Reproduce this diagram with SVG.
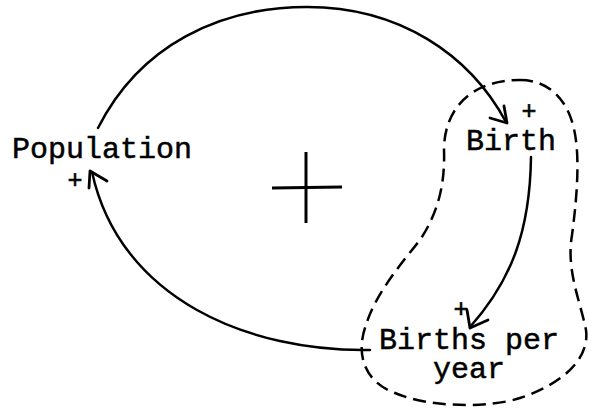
<svg xmlns="http://www.w3.org/2000/svg" width="589" height="413" viewBox="0 0 589 413">
<style>
.lbl{font-family:"Liberation Mono","Courier New",monospace;font-size:30px;fill:#000;stroke:#000;stroke-width:0.5;text-anchor:middle}
.pl{font-family:"Liberation Mono","Courier New",monospace;font-size:25px;fill:#000;stroke:#000;stroke-width:0.6;text-anchor:middle}
.ln{fill:none;stroke:#000;stroke-width:2.5;stroke-linecap:round}
.ah{fill:none;stroke:#000;stroke-width:2.8;stroke-linecap:round;stroke-linejoin:round}
.dash{fill:none;stroke:#000;stroke-width:2.5;stroke-dasharray:13 7}
</style>
<rect width="589" height="413" fill="#fff"/>
<g id="boundary">
<path class="dash" d="M520,80 C545,80 565,95 573,125 C580,150 578,190 572,235 C566,270 580,300 586,330 C590,360 560,385 520,398 C490,408 430,408 395,393 C365,382 355,355 366,325 C375,295 400,265 420,240 C440,210 445,180 444,150 C444,110 470,80 520,80 Z"/>
</g>
<g id="connectors">
<path class="ln" d="M98,128 C140,45 220,7 307,7 C400,7 470,55 506,122"/>
<polyline class="ah" points="490,118 507,123 504,106"/>
<path class="ln" d="M531,157 C530,230 512,280 470,327"/>
<polyline class="ah" points="467,310 470,328 488,320"/>
<path class="ln" d="M370,350 C250,352 120,300 92,172"/>
<polyline class="ah" points="89,188 90,171 107,181"/>
</g>
<g id="population">
<text class="lbl" x="102" y="158">Population</text>
<text class="pl" x="75" y="188">+</text>
</g>
<g id="birth">
<text class="lbl" x="511" y="150">Birth</text>
<text class="pl" x="529" y="119">+</text>
</g>
<g id="births-per-year">
<text class="lbl" x="469" y="349">Births per</text>
<text class="lbl" x="469" y="378">year</text>
<text class="pl" x="461" y="317">+</text>
</g>
<g id="loop-polarity">
<line x1="306" y1="152" x2="306" y2="223" stroke="#000" stroke-width="3"/>
<line x1="272" y1="188" x2="342" y2="187" stroke="#000" stroke-width="3"/>
</g>
</svg>
